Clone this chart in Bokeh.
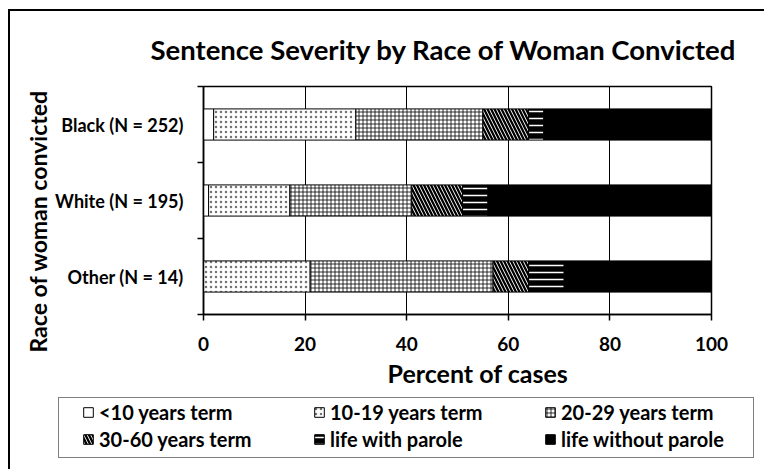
from bokeh.plotting import figure
from bokeh.models import Range1d, FixedTicker, Legend, LegendItem, Title
from bokeh.embed import file_html
from bokeh.resources import INLINE
import numpy as np

# ---- data ----
races = ["Black (N = 252)", "White (N = 195)", "Other (N = 14)"]
terms = ["<10 years term", "10-19 years term", "20-29 years term",
         "30-60 years term", "life with parole", "life without parole"]
lt10 = [2, 1, 0]
y10_19 = [28, 16, 21]
y20_29 = [25, 24, 36]
y30_60 = [9, 10, 7]
life_parole = [3, 5, 7]
life_no_parole = [33, 44, 29]
x_ticks = [0, 20, 40, 60, 80, 100]

title = "Sentence Severity by Race of Woman Convicted"
x_label = "Percent of cases"
y_label = "Race of woman convicted"

FONT = "Lato"
FRAME_CSS = {"box-shadow": "inset 2px 2px 0 0 black"}

# ---- styles ----
styles = [
    dict(fill_color="white"),
    dict(fill_color="white", hatch_pattern=".", hatch_color="black", hatch_scale=5, hatch_alpha=0.55),
    dict(fill_color="white", hatch_pattern="+", hatch_color="black", hatch_scale=4, hatch_weight=0.8),
    dict(fill_color="white", hatch_pattern="\\", hatch_color="black", hatch_scale=7, hatch_weight=2.3),
    dict(fill_color="black", hatch_pattern="-", hatch_color="white", hatch_scale=7, hatch_weight=1.5),
    dict(fill_color="black"),
]

series = [lt10, y10_19, y20_29, y30_60, life_parole, life_no_parole]
n = len(races)
ypos = [n - i - 0.5 for i in range(n)]


def add_bars(fig):
    left = np.zeros(n)
    rs = []
    for vals, st in zip(series, styles):
        right = left + np.array(vals, dtype=float)
        rs.append(fig.hbar(y=ypos, left=left.tolist(), right=right.tolist(), height=0.41,
                           line_color="black", line_width=1, **st))
        left = right
    return rs


p = figure(width=756, height=382, output_backend="svg", toolbar_location=None,
           x_range=Range1d(0, 100), y_range=Range1d(0, 3),
           min_border_left=195, min_border_right=53,
           min_border_top=76, min_border_bottom=77,
           margin=(9, 0, 0, 8), styles=FRAME_CSS)
p.border_fill_color = None
add_bars(p)

# ---- title & axes ----
p.title.text = title
p.title.text_font = FONT
p.title.text_font_size = "27.5px"
p.title.text_font_style = "bold"
p.title.text_color = "black"
p.title.align = "left"
p.title.offset = -53
p.title.standoff = 42

p.xgrid.grid_line_color = "black"
p.xgrid.grid_line_width = 1
p.ygrid.grid_line_color = None
p.outline_line_color = "black"
p.outline_line_width = 1.5

xa = p.xaxis[0]
xa.ticker = FixedTicker(ticks=x_ticks)
xa.major_tick_out = 6
xa.major_tick_in = 0
xa.minor_tick_line_color = None
xa.axis_line_width = 1.5
xa.major_tick_line_width = 1.5
xa.major_label_text_font = FONT
xa.major_label_text_font_style = "bold"
xa.major_label_text_font_size = "19px"
xa.major_label_text_color = "black"
xa.major_label_standoff = 16

ya = p.yaxis[0]
ya.ticker = FixedTicker(ticks=ypos, minor_ticks=list(range(n + 1)))
ya.major_label_overrides = {y: r for y, r in zip(ypos, races)}
ya.major_tick_line_color = None
ya.major_tick_out = 6
ya.minor_tick_out = 6
ya.minor_tick_in = 0
ya.minor_tick_line_width = 1.5
ya.axis_line_width = 1.5
ya.major_label_text_font = FONT
ya.major_label_text_font_style = "bold"
ya.major_label_text_font_size = "18px"
ya.major_label_text_color = "black"
ya.major_label_standoff = 14

# axis titles (as side-panel titles so they can be offset like the original)
p.add_layout(Title(text=x_label, align="left", offset=184, standoff=4,
                   text_font=FONT, text_font_style="bold", text_font_size="25px",
                   text_color="black"), "below")
p.add_layout(Title(text=y_label, align="left", offset=-38, standoff=2,
                   text_font=FONT, text_font_style="bold", text_font_size="23px",
                   text_color="black"), "left")

# ---- legend canvas (its own root, frame = whole canvas) ----
p2 = figure(width=756, height=78, output_backend="svg", toolbar_location=None,
            x_axis_type=None, y_axis_type=None,
            x_range=Range1d(0, 100), y_range=Range1d(10, 11),
            min_border=0, min_border_left=0, min_border_right=0,
            min_border_top=0, min_border_bottom=0,
            margin=(0, 0, 0, 8), styles={"box-shadow": "inset 2px 0 0 0 black"})
p2.outline_line_color = None
p2.border_fill_color = None
p2.background_fill_color = None
p2.grid.visible = False
leg_renderers = add_bars(p2)   # same bars, outside this canvas's y-range

dummy = p2.hbar(y=[], left=[], right=[], height=0.1, fill_alpha=0, line_alpha=0)
box = Legend(items=[LegendItem(label=" ", renderers=[dummy])],
             location=(50, 11.5), padding=0, margin=0, spacing=0,
             glyph_width=1, glyph_height=1, label_standoff=0,
             label_width=693, label_height=59,
             border_line_color="black", border_line_width=1.5,
             background_fill_color="white", background_fill_alpha=1)
p2.add_layout(box)

items = [LegendItem(label=t, renderers=[r]) for t, r in zip(terms, leg_renderers)]
leg = Legend(items=items, location=(74, 16.5), orientation="horizontal",
             ncols=3, padding=0, margin=0, spacing=0,
             glyph_width=12, glyph_height=12, label_standoff=5,
             label_width=214, label_height=27,
             border_line_color=None, background_fill_alpha=0,
             label_text_font=FONT, label_text_font_style="bold",
             label_text_font_size="20px", label_text_color="black")
p2.add_layout(leg)

open("out.html", "w").write(file_html([p, p2], INLINE))
